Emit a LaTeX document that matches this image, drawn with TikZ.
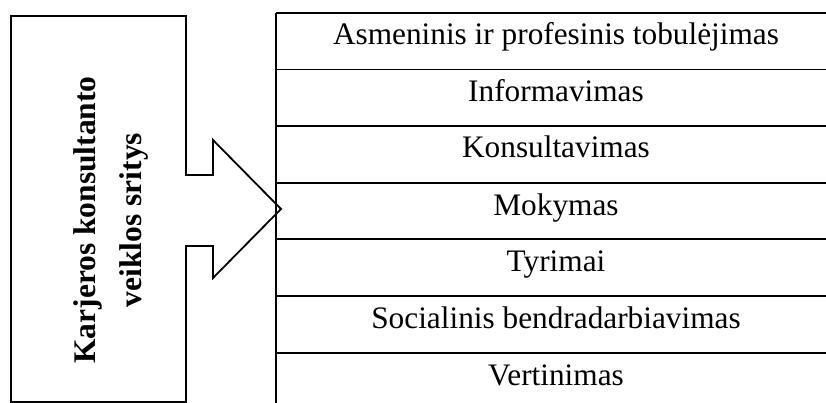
\documentclass[tikz,border=0pt]{standalone}
\usepackage{fontspec}
\setmainfont{Liberation Serif}
\begin{document}
\begin{tikzpicture}[x=1pt,y=-1pt,line width=1.8pt,
  rowtxt/.style={anchor=base, inner sep=0pt, font=\fontsize{31.3}{36}\selectfont}]
\useasboundingbox (0,0) rectangle (826,403);
% left box with arrow
\draw[line join=miter] (11,16) -- (186,16) -- (186,175) -- (213,175) -- (213,140) -- (281,209)
  -- (213,278) -- (213,246) -- (186,246) -- (186,402) -- (11,402) -- cycle;
\node[rotate=90, align=center, inner sep=0pt, font=\fontsize{31.5}{46}\selectfont\bfseries] (srit) at (111,220) {Karjeros konsultanto\\veiklos sritys};
% table rows
\coordinate (tl) at (276,13);
\coordinate (bl) at (276,403);
\draw (tl) -- (bl);
\coordinate (r0) at (276,13);
\coordinate (r1) at (276,69.5);
\coordinate (r2) at (276,126);
\coordinate (r3) at (276,183);
\coordinate (r4) at (276,239);
\coordinate (r5) at (276,296);
\coordinate (r6) at (276,353);
\draw (r0) -- +(550,0);
\draw (r1) -- +(550,0);
\draw (r2) -- +(550,0);
\draw (r3) -- +(550,0);
\draw (r4) -- +(550,0);
\draw (r5) -- +(550,0);
\draw (r6) -- +(550,0);
\node[rowtxt] (t0) at (556,45) {Asmeninis ir profesinis tobulėjimas};
\node[rowtxt] (t1) at (556,102) {Informavimas};
\node[rowtxt] (t2) at (556,158) {Konsultavimas};
\node[rowtxt] (t3) at (556,215) {Mokymas};
\node[rowtxt] (t4) at (556,271) {Tyrimai};
\node[rowtxt] (t5) at (556,328) {Socialinis bendradarbiavimas};
\node[rowtxt] (t6) at (556,385) {Vertinimas};
\end{tikzpicture}
\end{document}
